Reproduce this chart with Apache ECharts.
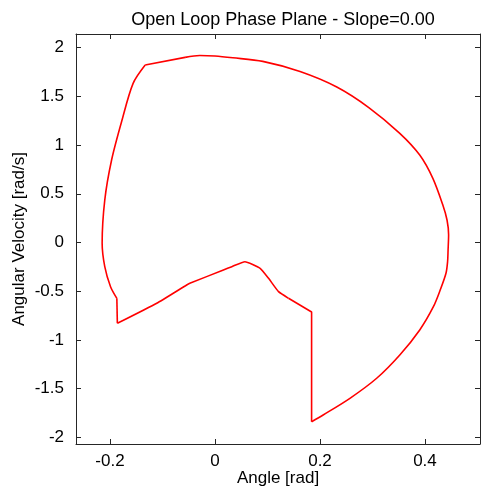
<!DOCTYPE html>
<html>
<head>
<meta charset="utf-8">
<script src="https://cdn.jsdelivr.net/npm/echarts@6/dist/echarts.min.js"></script>
<style>
html,body{margin:0;padding:0;background:#fff;}
#main{width:481px;height:489px;}
</style>
</head>
<body>
<div id="main"></div>
<script>
// trajectory (angle, angular velocity)
var angle = [-0.133,-0.057,-0.029,0.000,0.034,0.091,0.162,0.232,0.293,0.352,0.390,0.415,0.434,0.442,0.445,0.444,0.443,0.440,0.429,0.416,0.390,0.352,0.308,0.257,0.206,0.184,
	0.184,0.140,0.121,0.102,0.086,0.057,0.032,0.016,-0.048,-0.054,-0.111,-0.186,
	-0.187,-0.199,-0.210,-0.215,-0.210,-0.197,-0.178,-0.156,-0.133];
var velocity = [1.822,1.901,1.920,1.915,1.897,1.860,1.756,1.597,1.386,1.121,0.898,0.659,0.385,0.231,0.080,-0.077,-0.200,-0.316,-0.488,-0.659,-0.898,-1.155,-1.394,-1.600,-1.771,-1.840,
	-0.714,-0.573,-0.505,-0.368,-0.265,-0.197,-0.248,-0.282,-0.419,-0.436,-0.624,-0.830,
	-0.573,-0.454,-0.248,-0.008,0.436,0.847,1.240,1.634,1.822];
var xTicks = [-0.2,0,0.2,0.4];
var yTicks = [-2,-1.5,-1,-0.5,0,0.5,1,1.5,2];

function pts(a, b) {
	var out = [];
	for (var i = a; i <= b; i++) out.push([angle[i], velocity[i]]);
	return out;
}

var chart = echarts.init(document.getElementById('main'));
var font = 'Liberation Sans, Arial, sans-serif';
var lineCol = '#262626';

function axisBase(show) {
	return {
		axisLine: {show: true, onZero: false, lineStyle: {color: lineCol, width: 1}},
		axisTick: {show: true, inside: true, length: 5, lineStyle: {color: lineCol}},
		splitLine: {show: false},
		axisLabel: {show: show, color: '#000', fontSize: 17, fontFamily: font}
	};
}

var xb = axisBase(true);
xb.axisTick.customValues = xTicks;
xb.axisLabel.customValues = xTicks;
xb.axisLabel.margin = 9;
var xt = axisBase(false);
xt.axisTick.customValues = xTicks;
var yb = axisBase(true);
yb.axisTick.customValues = yTicks;
yb.axisLabel.customValues = yTicks;
yb.axisLabel.margin = 12;
var yr = axisBase(false);
yr.axisTick.customValues = yTicks;

function seg(d, smooth) {
	return {
		type: 'line',
		data: d,
		showSymbol: false,
		smooth: smooth,
		lineStyle: {color: '#ff0000', width: 1.6},
		itemStyle: {color: '#ff0000'}
	};
}

var option = {
	animation: false,
	title: {
		text: 'Open Loop Phase Plane - Slope=0.00',
		left: 278,
		textAlign: 'center',
		top: 6,
		textStyle: {fontSize: 18, fontWeight: 'normal', color: '#000', fontFamily: font}
	},
	grid: {left: 76, right: 1, top: 34, bottom: 45, containLabel: false, outerBoundsMode: 'none'},
	xAxis: [
		Object.assign({type: 'value', position: 'bottom', min: -0.2648, max: 0.5048,
			name: 'Angle [rad]', nameLocation: 'middle', nameGap: 26, nameMoveOverlap: false,
			nameTextStyle: {fontSize: 17, color: '#000', fontFamily: font}}, xb),
		Object.assign({type: 'value', position: 'top', min: -0.2648, max: 0.5048}, xt)
	],
	yAxis: [
		Object.assign({type: 'value', position: 'left', min: -2.069, max: 2.141,
			name: 'Angular Velocity [rad/s]', nameLocation: 'middle', nameGap: 48, nameMoveOverlap: false,
			nameTextStyle: {fontSize: 17, color: '#000', fontFamily: font}}, yb),
		Object.assign({type: 'value', position: 'right', min: -2.069, max: 2.141}, yr)
	],
	series: [
		seg(pts(0, 1), false),
		seg(pts(1, 25), 0.3),
		seg(pts(25, 27), false),
		seg(pts(27, 37), 0.15),
		seg(pts(37, 38), false),
		seg(pts(38, 46), 0.3)
	]
};
chart.setOption(option);
</script>
</body>
</html>
